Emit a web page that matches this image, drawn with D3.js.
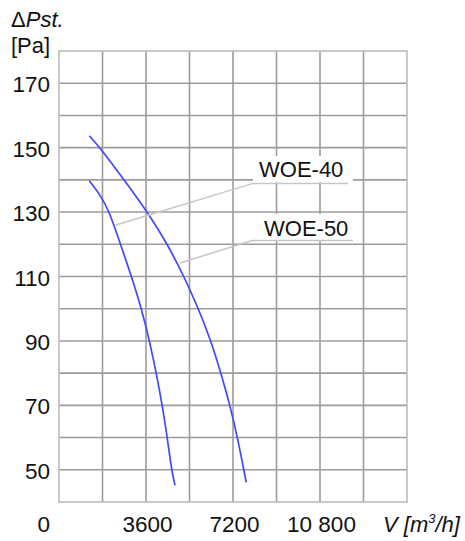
<!DOCTYPE html>
<html>
<head>
<meta charset="utf-8">
<script src="https://cdn.jsdelivr.net/npm/d3@7/dist/d3.min.js"></script>
<style>
  html, body { margin: 0; padding: 0; background: #fff; }
  svg { display: block; font-family: "Liberation Sans", Arial, sans-serif; }
</style>
</head>
<body>
<svg id="chart" width="465" height="541"></svg>
<script>
// ---- data ----
const seriesNames = ["WOE-40", "WOE-50"];
const woe40Flow = [1254, 1738, 2090, 2545, 3000, 3414, 3745, 4026, 4274, 4481, 4655, 4800];
const woe40Pst  = [139.7, 135, 130, 120, 110, 100, 90, 80, 70, 60, 50, 45.2];
const woe50Flow = [1254, 1697, 2690, 3662, 4490, 5172, 5772, 6290, 6703, 7076, 7386, 7647, 7750];
const woe50Pst  = [153.7, 150, 140, 130, 120, 110, 100, 90, 80, 70, 60, 50, 46.1];
const xTickLabels = [0, 3600, 7200, 10800];
const yTickLabels = [170, 150, 130, 110, 90, 70, 50];

// ---- layout ----
const svg = d3.select("#chart");
const x = d3.scaleLinear().domain([0, 14400]).range([59, 407]);
const y = d3.scaleLinear().domain([40, 180]).range([502, 51]);

// grid
const g = svg.append("g");
const vGrid = d3.range(1800, 14400, 1800);
const hGrid = d3.range(50, 180, 10);
g.selectAll(".vg").data(vGrid).enter().append("line")
  .attr("x1", d => x(d)).attr("x2", d => x(d))
  .attr("y1", y(180)).attr("y2", y(40))
  .attr("stroke", "#9c9c9c").attr("stroke-width", 1.6);
g.selectAll(".hg").data(hGrid).enter().append("line")
  .attr("x1", x(0)).attr("x2", x(14400))
  .attr("y1", d => y(d)).attr("y2", d => y(d))
  .attr("stroke", "#9c9c9c").attr("stroke-width", 1.6);
g.append("rect")
  .attr("x", x(0)).attr("y", y(180))
  .attr("width", x(14400) - x(0)).attr("height", y(40) - y(180))
  .attr("fill", "none").attr("stroke", "#bcbcbc").attr("stroke-width", 1.6);

// curves
const line = d3.line()
  .x(d => x(d[0])).y(d => y(d[1]))
  .curve(d3.curveBasis);
const series = [
  d3.zip(woe40Flow, woe40Pst),
  d3.zip(woe50Flow, woe50Pst)
];
svg.selectAll(".curve").data(series).enter().append("path")
  .attr("d", line)
  .attr("fill", "none")
  .attr("stroke", "#4646ff")
  .attr("stroke-width", 1.7);

// labels with leaders (positions in data units)
const labelDefs = [
  { name: seriesNames[0], from: [2360, 126], elbow: [8028, 138.9], end: [11960, 138.9],
    boxX0: 8028, boxX1: 12166, boxTop: 147.4, boxBot: 139.3, textX: 8276, textY: 140.8 },
  { name: seriesNames[1], from: [5007, 114.2], elbow: [7986, 121.15], end: [12166, 121.15],
    boxX0: 7986, boxX1: 12166, boxTop: 129.4, boxBot: 121.3, textX: 8483, textY: 122.45 }
];
labelDefs.forEach(L => {
  svg.append("rect")
    .attr("x", x(L.boxX0)).attr("y", y(L.boxTop))
    .attr("width", x(L.boxX1) - x(L.boxX0)).attr("height", y(L.boxBot) - y(L.boxTop))
    .attr("fill", "#fff");
  svg.append("polyline")
    .attr("points", [L.from, L.elbow, L.end].map(p => x(p[0]) + "," + y(p[1])).join(" "))
    .attr("fill", "none").attr("stroke", "#c6c6c6").attr("stroke-width", 1.5);
  svg.append("text")
    .attr("x", x(L.textX)).attr("y", y(L.textY))
    .attr("font-size", 22).attr("fill", "#111")
    .text(L.name);
});

// y tick labels
svg.selectAll(".yt").data(yTickLabels).enter().append("text")
  .attr("x", 50).attr("y", d => y(d) + 9)
  .attr("text-anchor", "end")
  .attr("font-size", 22.5).attr("fill", "#111")
  .text(d => d);

// x tick labels
svg.selectAll(".xt").data(xTickLabels).enter().append("text")
  .attr("x", d => d === 0 ? 50 : x(d) + 1.5)
  .attr("y", 531.5)
  .attr("text-anchor", d => d === 0 ? "end" : "middle")
  .attr("font-size", 22.5).attr("fill", "#111")
  .text(d => d >= 10000 ? d3.format(",")(d).replace(",", " ") : d);

// axis titles
const yt = svg.append("text").attr("x", 11).attr("y", 27).attr("font-size", 22).attr("fill", "#111");
yt.append("tspan").text("\u0394");
yt.append("tspan").attr("font-style", "italic").text("Pst.");
svg.append("text").attr("x", 11).attr("y", 53).attr("font-size", 22).attr("fill", "#111").text("[Pa]");

const xt = svg.append("text").attr("x", 383).attr("y", 531.5).attr("font-size", 22)
  .attr("font-style", "italic").attr("fill", "#111");
xt.append("tspan").text("V [m");
xt.append("tspan").attr("font-size", 13).attr("dy", -9).text("3");
xt.append("tspan").attr("dy", 9).text("/h]");
</script>
</body>
</html>
